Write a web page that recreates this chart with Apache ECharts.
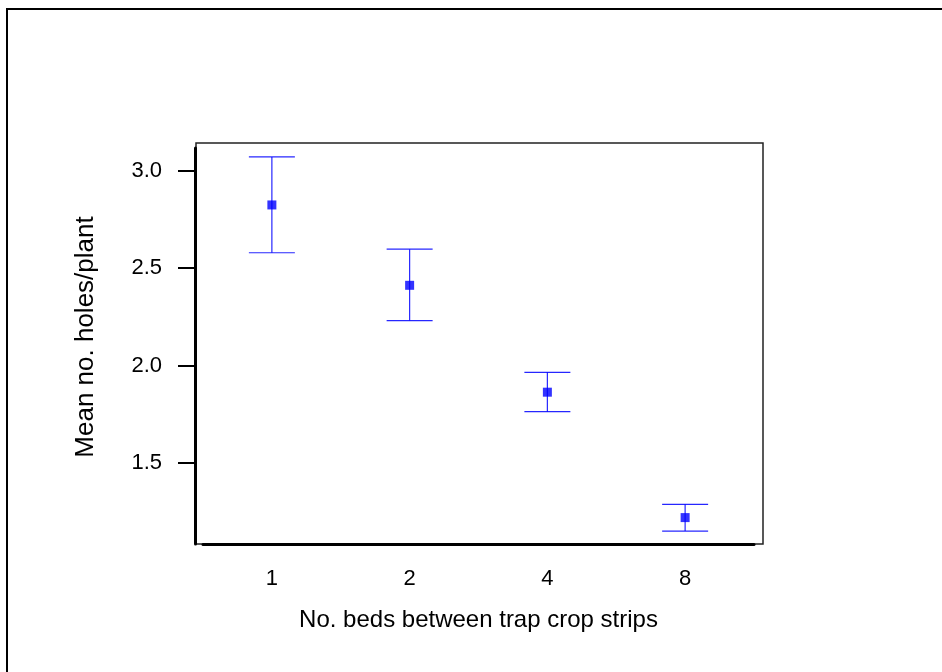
<!DOCTYPE html>
<html>
<head>
<meta charset="utf-8">
<script src="https://cdn.jsdelivr.net/npm/echarts@6/dist/echarts.min.js"></script>
<style>
  html, body { margin: 0; padding: 0; background: #fff; }
  #chart { width: 942px; height: 672px; }
</style>
</head>
<body>
<div id="chart"></div>
<script>
// beds between trap crop strips vs mean holes per plant
var categories = ['1', '2', '4', '8'];
var means = [2.824, 2.412, 1.864, 1.221];
var upper = [3.070, 2.597, 1.966, 1.289];
var lower = [2.579, 2.231, 1.764, 1.152];
var yTicks = [1.5, 2.0, 2.5, 3.0];

var font = 'Arial, "Liberation Sans", sans-serif';
var blue = '#0000ff';

var chart = echarts.init(document.getElementById('chart'));

// error bar data: [index, low, high]
var barData = [];
for (var i = 0; i < categories.length; i++) {
    barData.push([i, lower[i], upper[i]]);
}

function renderBar(params, api) {
    var x = api.coord([api.value(0), api.value(1)])[0];
    var lo = api.coord([api.value(0), api.value(1)])[1];
    var hi = api.coord([api.value(0), api.value(2)])[1];
    var hw = 23;
    var style = { stroke: blue, lineWidth: 1.2, opacity: 0.85 };
    return {
        type: 'group',
        children: [
            { type: 'line', shape: { x1: x, y1: hi, x2: x, y2: lo }, style: style },
            { type: 'line', shape: { x1: x - hw, y1: hi, x2: x + hw, y2: hi }, style: style },
            { type: 'line', shape: { x1: x - hw, y1: lo, x2: x + hw, y2: lo }, style: style }
        ]
    };
}

chart.setOption({
    backgroundColor: '#fff',
    animation: false,
    textStyle: { fontFamily: font },
    graphic: [
        // outer border
        { type: 'rect', shape: { x: 7, y: 9, width: 1200, height: 1200 },
          style: { fill: 'none', stroke: '#000', lineWidth: 2 }, z: 0 },
        // plot frame
        { type: 'rect', shape: { x: 196, y: 143, width: 567, height: 401 },
          style: { fill: 'none', stroke: '#222', lineWidth: 1.5 }, z: 0 }
    ],
    grid: { left: 203, right: 188, top: 148, bottom: 128 },
    xAxis: {
        type: 'category',
        data: categories,
        boundaryGap: true,
        name: 'No. beds between trap crop strips',
        nameLocation: 'middle',
        nameGap: 64,
        nameTextStyle: { fontSize: 24, color: '#000', fontFamily: font },
        axisLine: { lineStyle: { color: '#000', width: 3 } },
        axisTick: { alignWithLabel: true, length: 12, lineStyle: { color: '#000', width: 2 } },
        axisLabel: { fontSize: 22, color: '#000', margin: 24, fontFamily: font },
        splitLine: { show: false }
    },
    yAxis: {
        type: 'value',
        min: 1.0856,
        max: 3.116,
        offset: 8,
        name: 'Mean no. holes/plant',
        nameLocation: 'middle',
        nameGap: 96,
        nameTextStyle: { fontSize: 26, color: '#000', fontFamily: font, padding: [0, 0, 0, 18] },
        axisLine: { show: true, lineStyle: { color: '#000', width: 3 } },
        axisTick: { show: true, length: 17, customValues: yTicks, lineStyle: { color: '#000', width: 2 } },
        axisLabel: {
            fontSize: 22, color: '#000', margin: 33, fontFamily: font,
            customValues: yTicks,
            formatter: function (v) { return v.toFixed(1); }
        },
        splitLine: { show: false }
    },
    series: [
        {
            type: 'custom',
            data: barData,
            renderItem: renderBar,
            z: 2
        },
        {
            type: 'scatter',
            data: means,
            symbol: 'rect',
            symbolSize: 9,
            itemStyle: { color: blue },
            z: 3
        }
    ]
});
</script>
</body>
</html>
